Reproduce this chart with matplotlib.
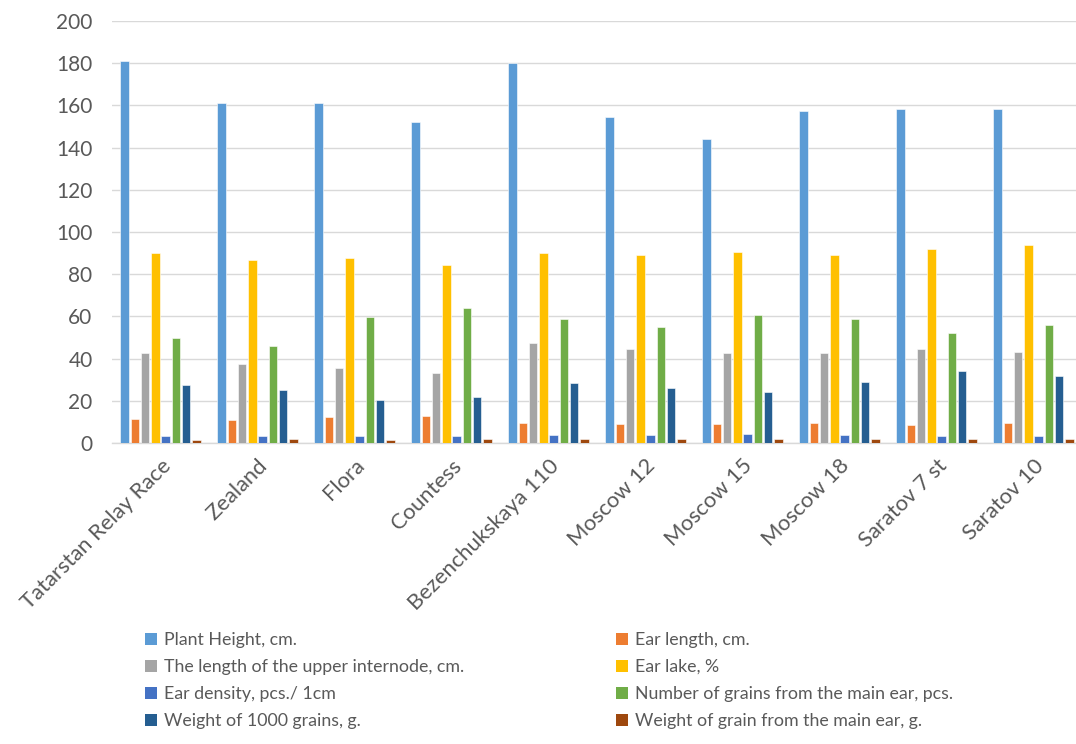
import matplotlib
matplotlib.use("Agg")
import matplotlib.pyplot as plt
from matplotlib.patches import Patch
import numpy as np

plt.rcParams['font.family'] = ['Lato', 'DejaVu Sans']

varieties = ["Tatarstan Relay Race", "Zealand", "Flora", "Countess",
             "Bezenchukskaya 110", "Moscow 12", "Moscow 15", "Moscow 18",
             "Saratov 7 st", "Saratov 10"]

plant_height = [181, 161, 161, 152, 180.3, 154.3, 144, 157.5, 158.3, 158.3]
ear_length = [11.2, 10.9, 12.5, 12.8, 9.6, 9.2, 9.0, 9.5, 8.5, 9.3]
upper_internode = [42.5, 37.5, 35.4, 33.4, 47.3, 44.7, 42.5, 42.8, 44.7, 43.2]
ear_lake = [90.0, 86.8, 87.9, 84.3, 90.0, 89.3, 90.5, 88.9, 91.9, 93.8]
ear_density = [3.3, 3.3, 3.3, 3.2, 3.6, 3.6, 4.1, 3.6, 3.3, 3.3]
grains_main_ear = [50.0, 46.0, 59.9, 64.0, 58.8, 54.9, 60.7, 58.8, 52.0, 55.8]
weight_1000 = [27.7, 25.1, 20.4, 21.8, 28.5, 26.1, 24.3, 28.9, 34.2, 31.8]
weight_main_ear = [1.6, 1.9, 1.6, 1.7, 1.9, 1.9, 1.7, 1.9, 2.0, 2.0]

series_names = ["Plant Height, cm.", "Ear length, cm.",
                "The length of the upper internode, cm.", "Ear lake, %",
                "Ear density, pcs./ 1cm", "Number of grains from the main ear, pcs.",
                "Weight of 1000 grains, g.", "Weight of grain from the main ear, g."]
series_values = [plant_height, ear_length, upper_internode, ear_lake,
                 ear_density, grains_main_ear, weight_1000, weight_main_ear]
colors = ["#5B9BD5", "#ED7D31", "#A5A5A5", "#FFC000",
          "#4472C4", "#70AD47", "#255E91", "#9E480E"]

W, H = 1076, 744
fig = plt.figure(figsize=(W / 100, H / 100), dpi=100)
ax = fig.add_axes([112 / W, 1 - 443 / H, 970 / W, 422 / H])

x = np.arange(len(varieties))
slot = 0.1056
bar_w = 0.086
n = len(series_values)
for i, (vals, c) in enumerate(zip(series_values, colors)):
    offs = (i - (n - 1) / 2) * slot
    ax.bar(x + offs, vals, width=bar_w, color=c, edgecolor="white",
           linewidth=0.4, zorder=3)

ax.set_xlim(-0.5, len(varieties) - 0.5)
ax.set_ylim(0, 200)
ax.set_yticks(np.arange(0, 201, 20))
ax.yaxis.grid(True, color="#D9D9D9", linewidth=1.0, zorder=0)
ax.set_axisbelow(True)
for s in ["top", "right", "left"]:
    ax.spines[s].set_visible(False)
ax.spines["bottom"].set_color("#D9D9D9")
ax.spines["bottom"].set_linewidth(1.0)

ax.tick_params(axis="y", length=0, pad=14, labelsize=15, labelcolor="#595959")
ax.tick_params(axis="x", length=0, pad=9, labelsize=15.8, labelcolor="#595959")
ax.set_xticks(x)
ax.set_xticklabels(varieties, rotation=45, ha="right", va="top",
                   rotation_mode="anchor")

handles = [Patch(facecolor=c, edgecolor="none") for c in colors]
left_idx = [0, 2, 4, 6]
right_idx = [1, 3, 5, 7]
common = dict(frameon=False, fontsize=12.8, labelcolor="#595959",
              handlelength=0.65, handleheight=0.65, handletextpad=0.42,
              labelspacing=0.62, borderpad=0, borderaxespad=0,
              loc="upper left")
fig.legend([handles[i] for i in left_idx], [series_names[i] for i in left_idx],
           bbox_to_anchor=(145 / W, 1 - 632 / H), **common)
fig.legend([handles[i] for i in right_idx], [series_names[i] for i in right_idx],
           bbox_to_anchor=(616 / W, 1 - 632 / H), **common)

fig.savefig("out.png", dpi=100)
